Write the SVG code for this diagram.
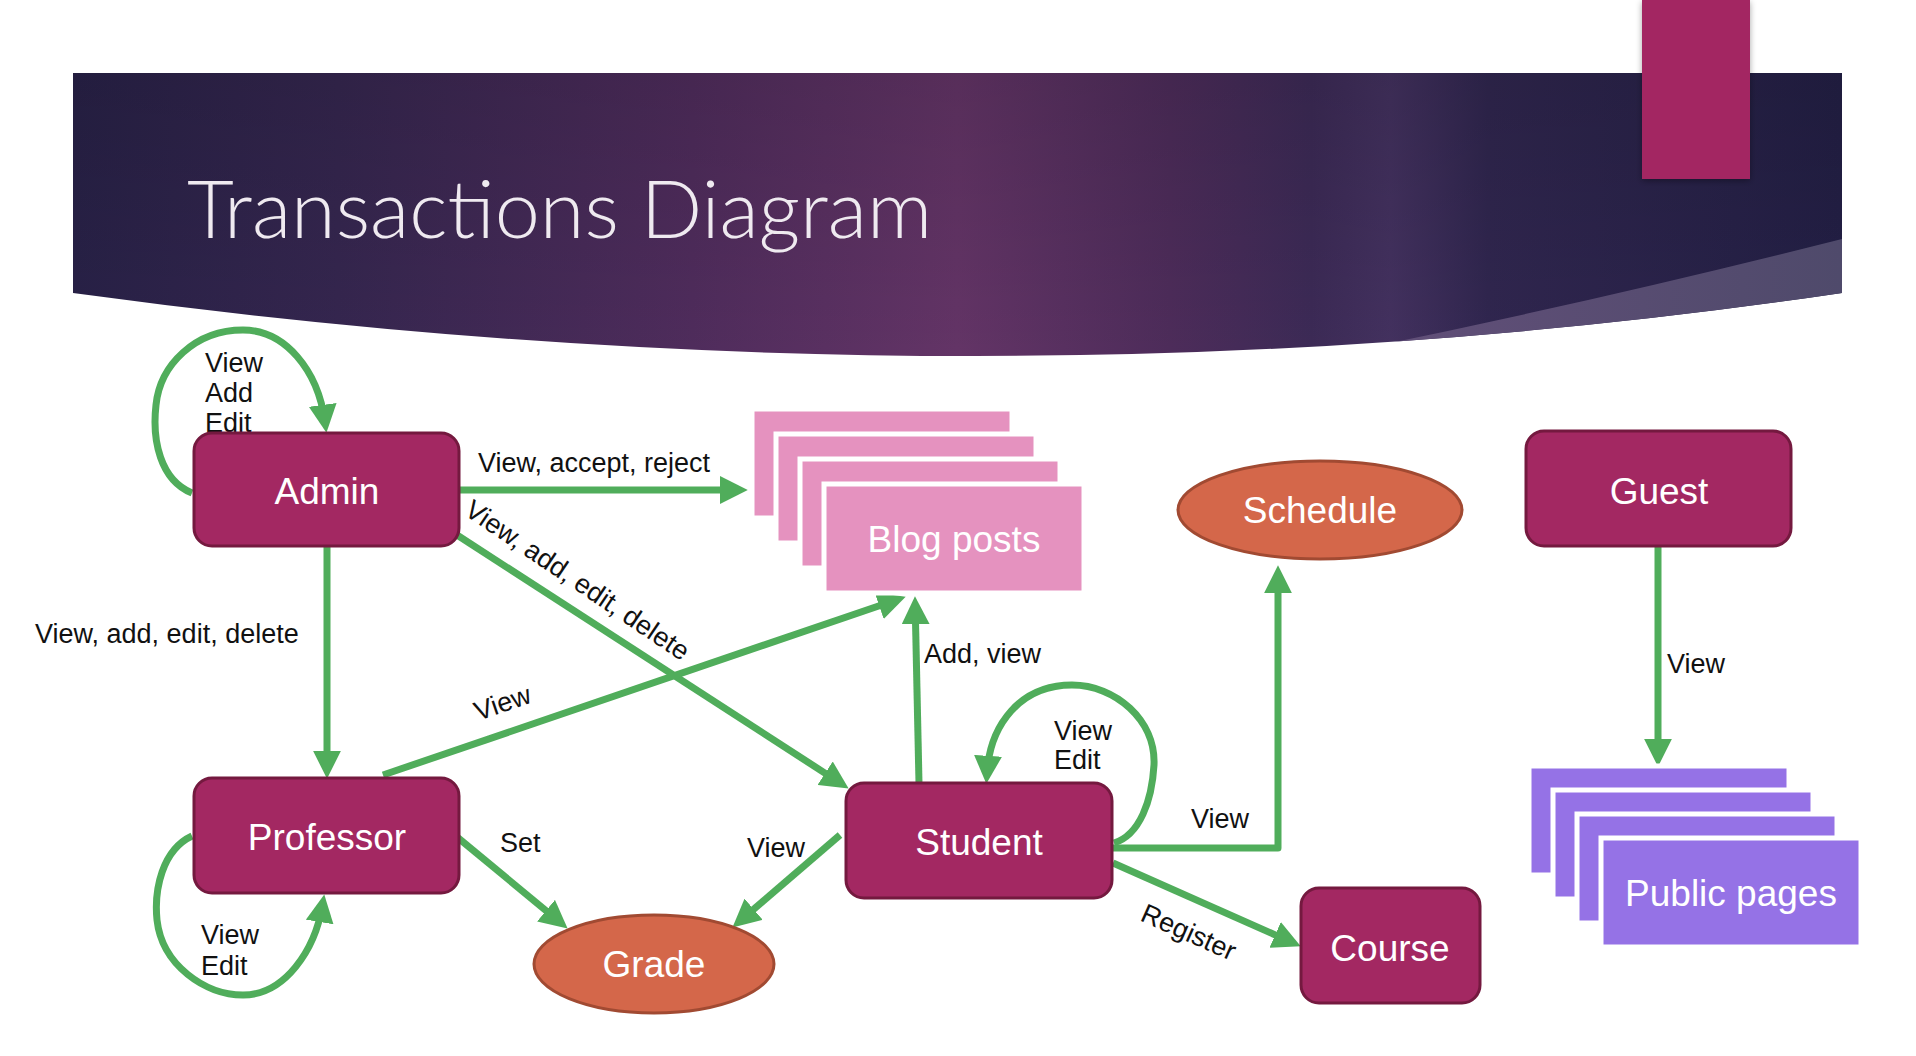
<svg xmlns="http://www.w3.org/2000/svg" width="1916" height="1056" viewBox="0 0 1916 1056">
  <defs>
    <style>
      .node { fill: #a32862; stroke: #74193f; stroke-width: 3; }
      .oval { fill: #d4674a; stroke: #a14a32; stroke-width: 3; }
      .blog { fill: #e592bf; stroke: #ffffff; stroke-width: 5; }
      .pub { fill: #9572e6; stroke: #ffffff; stroke-width: 5; }
      .ntext { font-family: "Liberation Sans", Arial, sans-serif; font-size: 37px; fill: #ffffff; text-anchor: middle; }
      .label { font-family: "Liberation Sans", Arial, sans-serif; font-size: 27px; fill: #111111; }
      .edge { fill: none; stroke: #50ad5b; stroke-width: 7; stroke-linejoin: round; marker-end: url(#arrow); }
      .title { font-family: Lato, "Liberation Sans", sans-serif; font-weight: 300; font-size: 81px; fill: #efeaf0; }
    </style>
    <marker id="arrow" markerUnits="userSpaceOnUse" markerWidth="28" markerHeight="28" viewBox="0 0 26 26" refX="16" refY="13" orient="auto">
      <path d="M0,0 L26,13 L0,26 Z" fill="#50ad5b"/>
    </marker>
    <linearGradient id="bannerFill" gradientUnits="userSpaceOnUse" x1="73" y1="0" x2="1842" y2="0">
      <stop offset="0" stop-color="#282147"/>
      <stop offset="0.15" stop-color="#35264f"/>
      <stop offset="0.35" stop-color="#4f2c5c"/>
      <stop offset="0.5" stop-color="#633466"/>
      <stop offset="0.62" stop-color="#4d2c5a"/>
      <stop offset="0.7" stop-color="#3c2a56"/>
      <stop offset="0.745" stop-color="#43315f"/>
      <stop offset="0.8" stop-color="#30264f"/>
      <stop offset="1" stop-color="#231f45"/>
    </linearGradient>
    <linearGradient id="bannerShade" gradientUnits="userSpaceOnUse" x1="0" y1="73" x2="0" y2="356">
      <stop offset="0" stop-color="#000000" stop-opacity="0.12"/>
      <stop offset="1" stop-color="#000000" stop-opacity="0"/>
    </linearGradient>
    <linearGradient id="wedgeFill" gradientUnits="userSpaceOnUse" x1="1371" y1="0" x2="1842" y2="0">
      <stop offset="0" stop-color="#624f79"/>
      <stop offset="1" stop-color="#4f4a6b"/>
    </linearGradient>
    <clipPath id="bannerClip">
      <path d="M73,73 H1842 V293 Q992,419 73,293 Z"/>
    </clipPath>
    <filter id="shadow" x="-20%" y="-10%" width="140%" height="130%">
      <feDropShadow dx="0" dy="2" stdDeviation="3" flood-color="#000000" flood-opacity="0.35"/>
    </filter>
  </defs>

  <rect x="0" y="0" width="1916" height="1056" fill="#ffffff"/>

  <!-- header band -->
  <g id="banner">
    <path d="M73,73 H1842 V293 Q992,419 73,293 Z" fill="url(#bannerFill)"/>
    <path d="M73,73 H1842 V293 Q992,419 73,293 Z" fill="url(#bannerShade)"/>
    <path d="M1842,239 Q1600,300 1371,347 L1371,430 L1842,430 Z" fill="url(#wedgeFill)" clip-path="url(#bannerClip)"/>
    <rect x="1642" y="0" width="108" height="179" fill="#a32862" filter="url(#shadow)"/>
    <text class="title" x="187" y="238">Transactions Diagram</text>
  </g>

  <!-- connectors -->
  <g id="connectors">
    <path class="edge" d="M192,493 C160,480 152,440 156,405 C160,365 195,330 243,330 C285,330 318,370 325,422"/>
    <path class="edge" d="M459,490 L737,490"/>
    <path class="edge" d="M327,547 L327,768"/>
    <path class="edge" d="M457,535 L839.6,782.6"/>
    <path class="edge" d="M383,775 L895.5,600.2"/>
    <path class="edge" d="M919,783 L915.2,607"/>
    <path class="edge" d="M1114,843 C1140,835 1152,800 1154,765 C1156,720 1115,685 1072,685 C1020,685 990,725 987,773"/>
    <path class="edge" d="M1112,848 L1278,848 L1278,576"/>
    <path class="edge" d="M1113,863 L1290.9,941.9"/>
    <path class="edge" d="M840,835 L740.6,920.5"/>
    <path class="edge" d="M457,837 L559.3,921.6"/>
    <path class="edge" d="M192,836 C162,850 154,890 157,920 C162,965 205,995 243,995 C285,995 315,950 322.5,905"/>
    <path class="edge" d="M1658,546 L1658,756"/>

    <text class="label" x="205" y="372">View</text>
    <text class="label" x="205" y="402">Add</text>
    <text class="label" x="205" y="432">Edit</text>
    <text class="label" x="478" y="472">View, accept, reject</text>
    <text class="label" x="35" y="643">View, add, edit, delete</text>
    <text class="label" x="463" y="514" transform="rotate(34 463 514)">View, add, edit, delete</text>
    <text class="label" x="478" y="721" transform="rotate(-19 478 721)">View</text>
    <text class="label" x="924" y="663">Add, view</text>
    <text class="label" x="1054" y="740">View</text>
    <text class="label" x="1054" y="769">Edit</text>
    <text class="label" x="1191" y="828">View</text>
    <text class="label" x="1139" y="920" transform="rotate(24 1139 920)">Register</text>
    <text class="label" x="747" y="857">View</text>
    <text class="label" x="500" y="852">Set</text>
    <text class="label" x="201" y="944">View</text>
    <text class="label" x="201" y="975">Edit</text>
    <text class="label" x="1667" y="673">View</text>
  </g>

  <!-- nodes -->
  <g id="admin">
    <rect class="node" x="194" y="433" width="265" height="113" rx="18"/>
    <text class="ntext" x="327" y="504">Admin</text>
  </g>
  <g id="professor">
    <rect class="node" x="194" y="778" width="265" height="115" rx="18"/>
    <text class="ntext" x="327" y="850">Professor</text>
  </g>
  <g id="student">
    <rect class="node" x="846" y="783" width="266" height="115" rx="18"/>
    <text class="ntext" x="979" y="855">Student</text>
  </g>
  <g id="guest">
    <rect class="node" x="1526" y="431" width="265" height="115" rx="18"/>
    <text class="ntext" x="1659" y="504">Guest</text>
  </g>
  <g id="course">
    <rect class="node" x="1301" y="888" width="179" height="115" rx="18"/>
    <text class="ntext" x="1390" y="961">Course</text>
  </g>
  <g id="schedule">
    <ellipse class="oval" cx="1320" cy="510" rx="142" ry="49"/>
    <text class="ntext" x="1320" y="523">Schedule</text>
  </g>
  <g id="grade">
    <ellipse class="oval" cx="654" cy="964" rx="120" ry="49"/>
    <text class="ntext" x="654" y="977">Grade</text>
  </g>
  <g id="blog-posts">
    <rect class="blog" x="752" y="409" width="260" height="109"/>
    <rect class="blog" x="776" y="434" width="260" height="109"/>
    <rect class="blog" x="800" y="459" width="260" height="109"/>
    <rect class="blog" x="824" y="484" width="260" height="109"/>
    <text class="ntext" x="954" y="552">Blog posts</text>
  </g>
  <g id="public-pages">
    <rect class="pub" x="1529" y="766" width="260" height="109"/>
    <rect class="pub" x="1553" y="790" width="260" height="109"/>
    <rect class="pub" x="1577" y="814" width="260" height="109"/>
    <rect class="pub" x="1601" y="838" width="260" height="109"/>
    <text class="ntext" x="1731" y="906">Public pages</text>
  </g>
</svg>
